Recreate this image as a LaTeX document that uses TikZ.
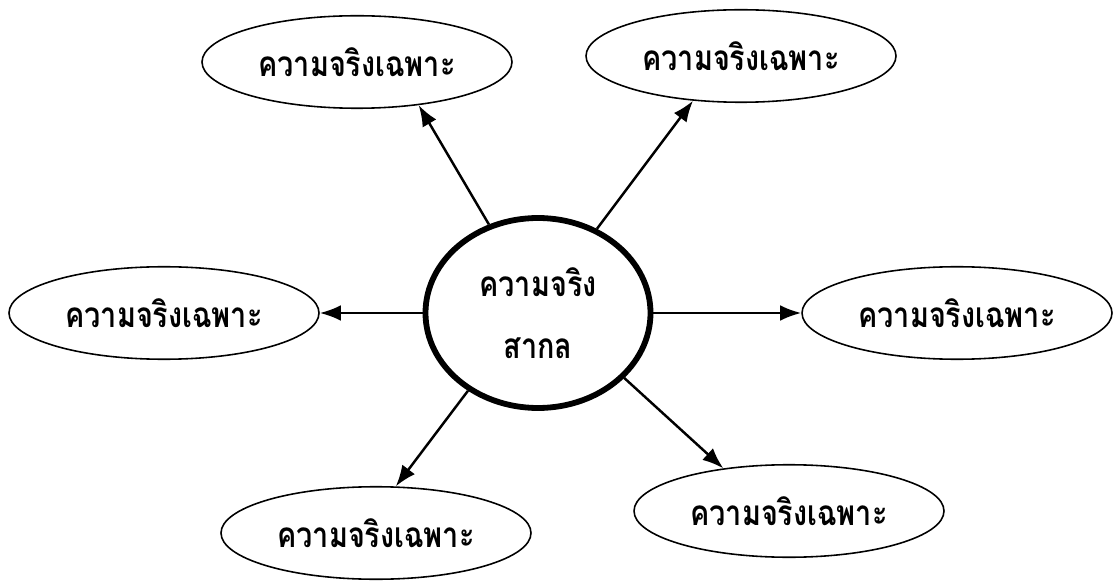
\documentclass[tikz,border=0pt]{standalone}
\usepackage{fontspec}
\newfontfamily\thaifont[Script=Thai,FakeStretch=0.82]{Loma}
\usetikzlibrary{shapes.geometric,arrows.meta}
\begin{document}
\begin{tikzpicture}[>={Latex[length=12pt,width=9pt]},
        specific/.style={ellipse,draw,line width=0.9pt,minimum width=6.2cm,minimum height=1.85cm,
            font=\thaifont\bfseries\fontsize{20}{22}\selectfont},
        universal/.style={ellipse,draw,line width=3.3pt,minimum width=4.5cm,minimum height=3.8cm,
            align=center,font=\thaifont\bfseries\fontsize{20}{35}\selectfont},
        link/.style={->,line width=1.4pt}]
        % fix the page size
        \useasboundingbox (0cm,0cm) rectangle (22.26cm,11.6cm);

        % the universal truth in the middle
        \node[universal] (uni) at (10.76cm,5.34cm) {ความจริง\\สากล};

        % the particular truths around it
        \node[specific] (tl) at (7.14cm,10.36cm) {ความจริงเฉพาะ};
        \node[specific] (tr) at (14.82cm,10.48cm) {ความจริงเฉพาะ};
        \node[specific] (l)  at (3.28cm,5.34cm)  {ความจริงเฉพาะ};
        \node[specific] (r)  at (19.14cm,5.34cm) {ความจริงเฉพาะ};
        \node[specific] (bl) at (7.52cm,0.94cm)  {ความจริงเฉพาะ};
        \node[specific] (br) at (15.78cm,1.38cm) {ความจริงเฉพาะ};

        % arrows from the middle outwards
        \draw[link] (uni.119) -- (tl.-35);
        \draw[link] (uni.55)  -- (tr.-137);
        \draw[link] (uni.west) -- (l.east);
        \draw[link] (uni.east) -- (r.west);
        \draw[link] (uni.-132) -- (bl.67);
        \draw[link] (uni.-37) -- (br.147);
\end{tikzpicture}
\end{document}
